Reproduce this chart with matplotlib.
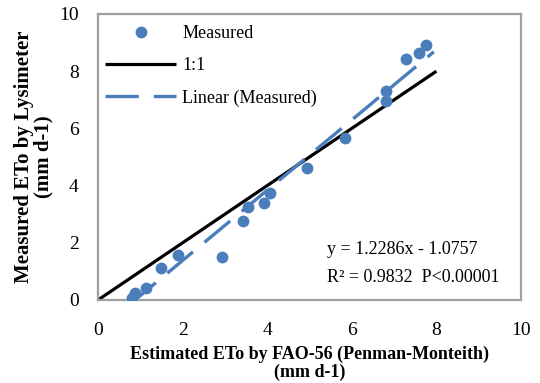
import matplotlib
matplotlib.use("Agg")
import matplotlib.pyplot as plt
import numpy as np

plt.rcParams['font.family'] = ['Liberation Serif', 'DejaVu Serif']

# Data
estimated = [0.81, 0.88, 1.13, 1.48, 1.89, 2.93, 3.42, 3.55, 3.92, 4.06,
             4.95, 5.84, 6.80, 6.80, 7.29, 7.58, 7.75]
measured = [0.06, 0.23, 0.43, 1.13, 1.58, 1.52, 2.75, 3.24, 3.39, 3.74,
            4.62, 5.65, 6.96, 7.31, 8.42, 8.62, 8.92]
one_to_one = [0, 8]
slope, intercept = 1.2286, -1.0757
trend_x = [0.76, 7.94]
ticks = [0, 2, 4, 6, 8, 10]

blue = '#4A7EBB'

fig = plt.figure(figsize=(5.4, 3.83), dpi=100)
ax = fig.add_axes([98/540, 1-300/383, 423/540, 286/383])

ax.plot(estimated, measured, 'o', color=blue, markersize=7.5, label='Measured', zorder=3)
ax.plot(one_to_one, one_to_one, '-', color='black', linewidth=2.3, label='1:1',
        solid_capstyle='butt', clip_on=False, zorder=2)
tx = np.array(trend_x)
ax.plot(tx, slope*tx + intercept, color=blue, linewidth=2.4, dashes=(10, 4.5),
        dash_capstyle='butt', label='Linear (Measured)', zorder=2)

ax.set_xlim(0, 10)
ax.set_ylim(0, 10)
ax.set_xticks(ticks)
ax.set_yticks(ticks)
ax.tick_params(length=0, labelsize=14)
ax.tick_params(axis='x', pad=16)
ax.tick_params(axis='y', pad=14)
for s in ax.spines.values():
    s.set_color('#A0A0A0')
    s.set_linewidth(1.6)

ax.set_xlabel('Estimated ETo by FAO-56 (Penman-Monteith)\n(mm d-1)',
              fontsize=13, fontweight='bold', labelpad=5, linespacing=1.0)
ax.set_ylabel('Measured ETo by Lysimeter\n(mm d-1)',
              fontsize=15, fontweight='bold', labelpad=4, linespacing=0.95)

leg = ax.legend(loc='upper left', bbox_to_anchor=(-0.008, 1.0), frameon=False,
                fontsize=13, handlelength=3.9, handletextpad=0.35,
                labelspacing=0.85, borderaxespad=0.2)

texts = [('y = 1.2286x - 1.0757', 327, 250),
         ('R² = 0.9832  P<0.00001', 327, 278)]
for s, px, py in texts:
    ax.text(px/540, 1 - py/383, s, transform=fig.transFigure, fontsize=13,
            va='center', ha='left')

fig.savefig('out.png', dpi=100)
